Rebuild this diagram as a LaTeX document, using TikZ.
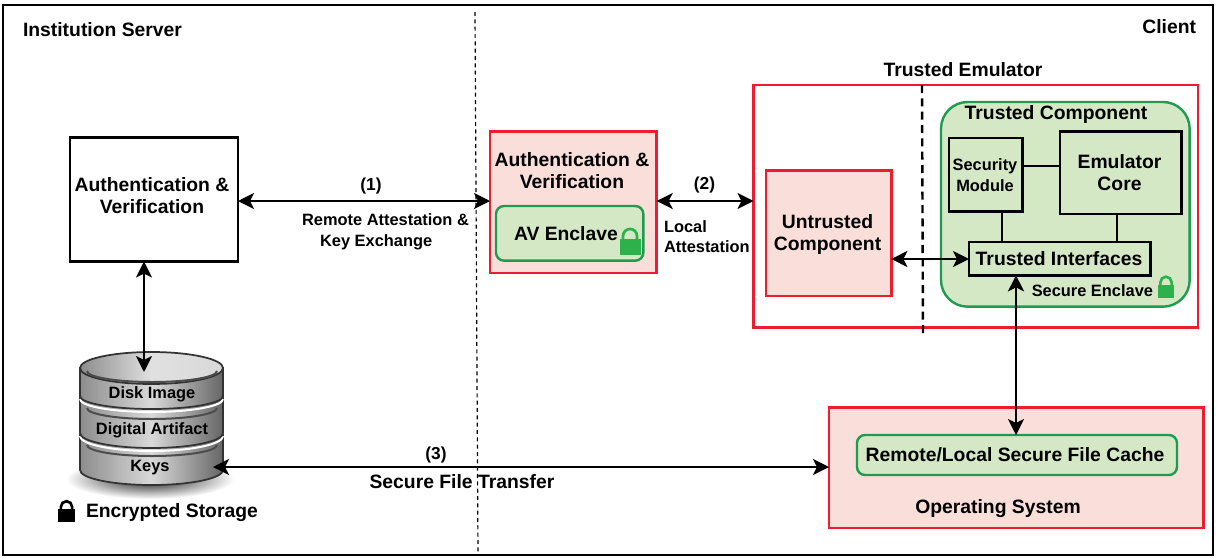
\documentclass[tikz,border=0pt]{standalone}
\usepackage{fontspec}
\setmainfont{Liberation Sans}
\usetikzlibrary{arrows.meta,calc,shadings}
\definecolor{rd}{HTML}{ED1C2E}
\definecolor{pk}{HTML}{FADEDA}
\definecolor{gn}{HTML}{1F9B50}
\definecolor{lg}{HTML}{D5E8C6}
\definecolor{lk}{HTML}{2DB14A}
\tikzset{
 x=0.75pt,y=-0.75pt,
 every node/.style={font=\bfseries\fontsize{14.5}{16.5}\selectfont,align=center,inner sep=0pt,outer sep=0pt},
 lab/.style={font=\bfseries\fontsize{13}{16}\selectfont},
 sm/.style={font=\bfseries\fontsize{12.3}{15.5}\selectfont},
 blk/.style={draw=black,line width=1.75pt},
 redbox/.style={draw=rd,line width=1.8pt,fill=pk},
 redopen/.style={draw=rd,line width=1.8pt},
 grnbox/.style={draw=gn,line width=1.8pt,fill=lg,rounded corners=6pt},
 arr/.style={line width=1.9pt,{Stealth[length=12pt,width=12pt,inset=3pt]}-{Stealth[length=12pt,width=12pt,inset=3pt]}},
 link/.style={line width=1.9pt},
 lockpic/.pic={
   \fill[#1] (-10.5,0) rectangle (10.5,-16);
   \draw[#1,line width=2pt] (-7,-15) -- (-7,-19) arc[start angle=180,end angle=360,x radius=7,y radius=7] -- (7,-15);
 },
 disk/.style={left color=black!45,right color=black!60,middle color=black!15,draw=black!80,line width=1.3pt},
 lip/.style={draw=black!70,line width=1.5pt}
}
\begin{document}
\begin{tikzpicture}
\useasboundingbox (0,0) rectangle (1217,557);
\draw[line width=1.8pt] (3,5) rectangle (1213,555);
% divider
\coordinate (dt) at (475,12); \coordinate (db) at (478,555);
\draw[line width=0.9pt,dash pattern=on 3pt off 2.5pt] (dt) -- (db);
\node[anchor=west] (inst) at (23,30) {Institution Server};
\node[anchor=east] (client) at (1196,27) {Client};
% left box
\node[blk,fill=white,minimum width=126pt,minimum height=93pt,anchor=north west] (av) at (70,137.5) {};
\node at (152,195.5) {Authentication \&\\Verification};
% storage
\shade[inner color=black!90,outer color=white] (150,479) ellipse[x radius=84,y radius=20];
\path[disk] (80,435) -- (80,470) arc[start angle=180,end angle=0,x radius=71.5,y radius=15] -- (223,435) -- cycle;
\draw[lip] (87,445) arc[start angle=180,end angle=0,x radius=65,y radius=11];
\draw[white,line width=1.5pt] (80,436) arc[start angle=180,end angle=0,x radius=71.5,y radius=15];
\path[disk] (80,397) -- (80,433) arc[start angle=180,end angle=0,x radius=71.5,y radius=15] -- (223,397) -- cycle;
\draw[lip] (87,408) arc[start angle=180,end angle=0,x radius=65,y radius=11];
\draw[white,line width=1.5pt] (80,399) arc[start angle=180,end angle=0,x radius=71.5,y radius=13];
\path[disk] (80,368) -- (80,396) arc[start angle=180,end angle=0,x radius=71.5,y radius=13] -- (223,368) -- cycle;
\path[left color=black!45,right color=black!15,middle color=black!12,draw=black!80,line width=1.3pt] (151.5,368) ellipse[x radius=71.5,y radius=16];
\draw[lip] (87,371) arc[start angle=180,end angle=0,x radius=65,y radius=11];
\node[sm] (d1) at (152,394) {Disk Image};
\node[sm] (d2) at (152,430) {Digital Artifact};
\node[sm] (d3) at (150,468) {Keys};
\coordinate (dtop) at (144,372);
\coordinate (dkeys) at (213,467);
\pic[scale=.8] at (66.5,522) {lockpic=black};
\node[anchor=west] (enc) at (86,513) {Encrypted Storage};
% enclave box
\node[redbox,minimum width=125pt,minimum height=106pt,anchor=north west] (avr) at (490,131.5) {};
\node at (572,170.5) {Authentication \&\\Verification};
\node[grnbox,minimum width=110.5pt,minimum height=41pt,anchor=north west] (ave) at (496,206) {};
\node[anchor=west] (avt) at (514,233.5) {AV Enclave};
\pic at (630,255) {lockpic=lk};
% (1)
\draw[arr] (av.east|-0,201) -- (avr.west|-0,201);
\node[lab] (n1) at (371,186) {(1)};
\node[sm] (n1b) at (385.5,232) {Remote Attestation \&\\Key Exchange\hspace*{14pt}};
% Emulator
\node[redopen,minimum width=333.5pt,minimum height=182pt,anchor=north west] (em) at (753.5,85) {};
\node (emt) at (963,70) {Trusted Emulator};
\draw[arr] (avr.east|-0,201) -- (em.west|-0,201);
\node[lab] (n2) at (704.5,185) {(2)};
\node[sm,align=left,anchor=west] (n2b) at (664,236.5) {Local\\Attestation};
\coordinate (et) at (922,85); \coordinate (eb) at (923,335);
\draw[line width=1.8pt,dash pattern=on 6pt off 4pt] (et) -- (eb);
\node[redbox,minimum width=94pt,minimum height=94pt,anchor=north west] (ut) at (766,170.5) {};
\node at (827.5,234) {Untrusted\\Component};
\node[draw=gn,line width=1.8pt,fill=lg,rounded corners=20pt,minimum width=186.5pt,minimum height=153.5pt,anchor=north west] (tc) at (941,102) {};
\node (tct) at (1056,114) {Trusted Component};
\node[blk,minimum width=55pt,minimum height=55pt,anchor=north west] (sm) at (949,138) {};
\node[sm] at (985,175) {Security\\Module};
\node[blk,minimum width=91pt,minimum height=62pt,anchor=north west] (core) at (1060,131.5) {};
\node at (1119.5,172.5) {Emulator\\Core};
\node[blk,minimum width=136pt,minimum height=25pt,anchor=north west] (ti) at (969,242) {};
\node (tit) at (1059,258.5) {Trusted Interfaces};
\node[sm,anchor=east] (se) at (1153,290.5) {Secure Enclave};
\pic[scale=.8] at (1166,297.5) {lockpic=lk};
\draw[link] (sm.east|-0,166) -- (core.west|-0,166);
\draw[link] (sm.south-|1002,0) -- (ti.north-|1002,0);
\draw[link] (core.south-|1117,0) -- (ti.north-|1117,0);
\draw[arr] (ut.east|-0,259) -- (ti.west|-0,259);
% OS
\node[redbox,minimum width=281pt,minimum height=90.5pt,anchor=north west] (os) at (829,407.5) {};
\node[grnbox,minimum width=240pt,minimum height=30pt,anchor=north west] (cache) at (857,435) {};
\node (ct) at (1015,455) {Remote/Local Secure File Cache};
\node (ost) at (998,509) {Operating System};
\draw[arr] (ti.south-|1016,0) -- (cache.north-|1016,0);
\draw[arr] (av.south-|144,0) -- (dtop);
\draw[arr] (dkeys) -- (os.west|-dkeys);
\node[lab] (n3) at (436,455) {(3)};
\node (n3b) at (462,481.5) {Secure File Transfer};
\end{tikzpicture}
\end{document}
